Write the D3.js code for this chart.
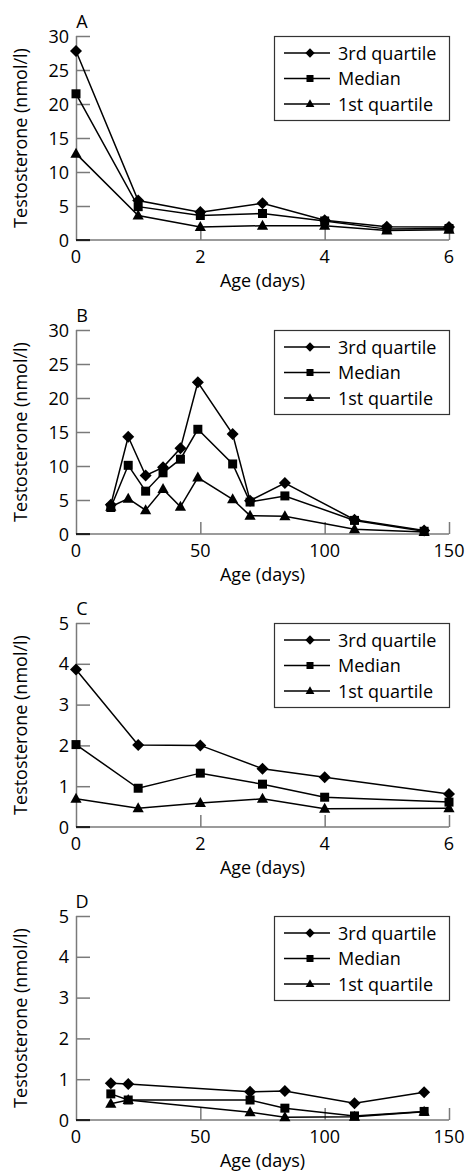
<!DOCTYPE html>
<html>
<head>
<meta charset="utf-8">
<script src="https://cdn.jsdelivr.net/npm/d3@7"></script>
<style>
  html, body { margin: 0; padding: 0; background: #fff; }
  svg { display: block; }
  text { font-family: "Open Sans", Lato, sans-serif; fill: #000; }
</style>
</head>
<body>
<svg id="chart" width="466" height="1173"></svg>
<script>
// ---- Data ----
const seriesNames = ["3rd quartile", "Median", "1st quartile"];
const panelLabels = ["A", "B", "C", "D"];

const agesA = [0, 1, 2, 3, 4, 5, 6];
const a_q3  = [27.8, 5.8, 4.1, 5.4, 2.9, 1.95, 1.9];
const a_med = [21.5, 4.9, 3.6, 3.9, 2.8, 1.6, 1.7];
const a_q1  = [12.7, 3.6, 1.9, 2.1, 2.1, 1.4, 1.5];

const agesB = [14, 21, 28, 35, 42, 49, 63, 70, 84, 112, 140];
const b_q3  = [4.3, 14.3, 8.6, 9.8, 12.6, 22.3, 14.7, 4.9, 7.5, 2.1, 0.5];
const b_med = [3.9, 10.1, 6.3, 9.0, 11.0, 15.4, 10.3, 4.7, 5.6, 2.0, 0.4];
const b_q1  = [4.0, 5.2, 3.5, 6.6, 4.0, 8.3, 5.1, 2.7, 2.6, 0.7, 0.3];

const agesC = [0, 1, 2, 3, 4, 6];
const c_q3  = [3.86, 2.01, 2.0, 1.43, 1.22, 0.81];
const c_med = [2.02, 0.95, 1.32, 1.05, 0.73, 0.61];
const c_q1  = [0.69, 0.46, 0.59, 0.69, 0.45, 0.46];

const agesD = [14, 21, 70, 84, 112, 140];
const d_q3  = [0.9, 0.88, 0.69, 0.71, 0.41, 0.68];
const d_med = [0.64, 0.49, 0.49, 0.29, 0.1, 0.21];
const d_q1  = [0.4, 0.49, 0.19, 0.07, 0.08, 0.2];

const xTicksDays  = [0, 2, 4, 6];
const xTicksWeeks = [0, 50, 100, 150];
const yTicksHigh  = [0, 5, 10, 15, 20, 25, 30];
const yTicksLow   = [0, 1, 2, 3, 4, 5];

const xTitle = "Age (days)";
const yTitle = "Testosterone (nmol/l)";

// ---- Drawing ----
const svg = d3.select("#chart");
const axisColor = "#7a7a7a";
const left = 76, right = 449, plotH = 204;
const panelTops = [36, 330, 623, 916];
const fs = 18;

const panels = [
  { ages: agesA, series: [a_q3, a_med, a_q1], xDomain: [0, 6],   xTicks: xTicksDays,  yDomain: [0, 30], yTicks: yTicksHigh },
  { ages: agesB, series: [b_q3, b_med, b_q1], xDomain: [0, 150], xTicks: xTicksWeeks, yDomain: [0, 30], yTicks: yTicksHigh },
  { ages: agesC, series: [c_q3, c_med, c_q1], xDomain: [0, 6],   xTicks: xTicksDays,  yDomain: [0, 5],  yTicks: yTicksLow },
  { ages: agesD, series: [d_q3, d_med, d_q1], xDomain: [0, 150], xTicks: xTicksWeeks, yDomain: [0, 5],  yTicks: yTicksLow }
];

function markerPath(i, s) {
  // i: 0 diamond, 1 square, 2 triangle
  if (i === 0) { const r = 6 * s; return `M0,${-r}L${r},0L0,${r}L${-r},0Z`; }
  if (i === 1) { const r = 4.5 * s; return `M${-r},${-r}H${r}V${r}H${-r}Z`; }
  const h = 10 * s, w = 5.6 * s;
  return `M0,${-h * 0.6}L${w},${h * 0.4}L${-w},${h * 0.4}Z`;
}

panels.forEach((p, pi) => {
  const top = panelTops[pi];
  const bottom = top + plotH;
  const g = svg.append("g");
  const x = d3.scaleLinear().domain(p.xDomain).range([left, right]);
  const y = d3.scaleLinear().domain(p.yDomain).range([bottom, top]);

  // y axis (ticks pointing inward)
  const yAxis = d3.axisRight(y).tickValues(p.yTicks).tickSize(14).tickFormat("");
  const ya = g.append("g").attr("transform", `translate(${left},0)`).call(yAxis);
  ya.select(".domain").attr("stroke", axisColor).attr("stroke-width", 1.5).attr("d", `M0.5,${bottom}V${top}`);
  ya.selectAll(".tick line").attr("stroke", axisColor).attr("stroke-width", 1.5);
  g.selectAll(".ylab").data(p.yTicks).join("text")
    .attr("x", left - 7).attr("y", d => y(d) + 6.5)
    .attr("text-anchor", "end").attr("font-size", fs).text(d => d);

  // x axis (ticks pointing up)
  const xAxis = d3.axisTop(x).tickValues(p.xTicks.filter(t => t !== p.xDomain[0])).tickSize(12).tickFormat("");
  const xa = g.append("g").attr("transform", `translate(0,${bottom})`).call(xAxis);
  xa.select(".domain").attr("stroke", axisColor).attr("stroke-width", 1.5).attr("d", `M${left},0H${right}`);
  xa.selectAll(".tick line").attr("stroke", axisColor).attr("stroke-width", 1.5);
  g.append("line").attr("x1", left).attr("x2", left + 14).attr("y1", bottom).attr("y2", bottom)
    .attr("stroke", "#000").attr("stroke-width", 1.5);
  g.selectAll(".xlab").data(p.xTicks).join("text")
    .attr("x", d => x(d)).attr("y", bottom + 23)
    .attr("text-anchor", "middle").attr("font-size", fs).text(d => d);

  // titles
  g.append("text").attr("x", (left + right) / 2).attr("y", bottom + 47)
    .attr("text-anchor", "middle").attr("font-size", fs).text(xTitle);
  g.append("text").attr("transform", `translate(27,${(top + bottom) / 2}) rotate(-90)`)
    .attr("text-anchor", "middle").attr("font-size", fs).text(yTitle);
  g.append("text").attr("x", left + 6).attr("y", top - 8)
    .attr("text-anchor", "middle").attr("font-size", fs).text(panelLabels[pi]);

  // series
  const line = d3.line().x(d => x(d[0])).y(d => y(d[1]));
  p.series.forEach((vals, si) => {
    const pts = p.ages.map((a, k) => [a, vals[k]]);
    g.append("path").datum(pts).attr("d", line)
      .attr("fill", "none").attr("stroke", "#000").attr("stroke-width", 1.5);
    g.selectAll(".m" + si).data(pts).join("path")
      .attr("transform", d => `translate(${x(d[0])},${y(d[1])})`)
      .attr("d", markerPath(si, 1)).attr("fill", "#000");
  });

  // legend
  const lx = 274, lw = 175, lh = 84;
  const lg = g.append("g").attr("transform", `translate(${lx},${top})`);
  lg.append("rect").attr("x", 0.5).attr("y", 0.5).attr("width", lw).attr("height", lh)
    .attr("fill", "#fff").attr("stroke", "#333").attr("stroke-width", 1.2);
  seriesNames.forEach((name, si) => {
    const ry = 17 + si * 25.5;
    lg.append("line").attr("x1", 10).attr("x2", 56).attr("y1", ry).attr("y2", ry)
      .attr("stroke", "#000").attr("stroke-width", 1.5);
    lg.append("path").attr("transform", `translate(36,${ry})`).attr("d", markerPath(si, 0.78)).attr("fill", "#000");
    lg.append("text").attr("x", 64).attr("y", ry + 6.5).attr("font-size", fs).text(name);
  });
});
</script>
</body>
</html>
